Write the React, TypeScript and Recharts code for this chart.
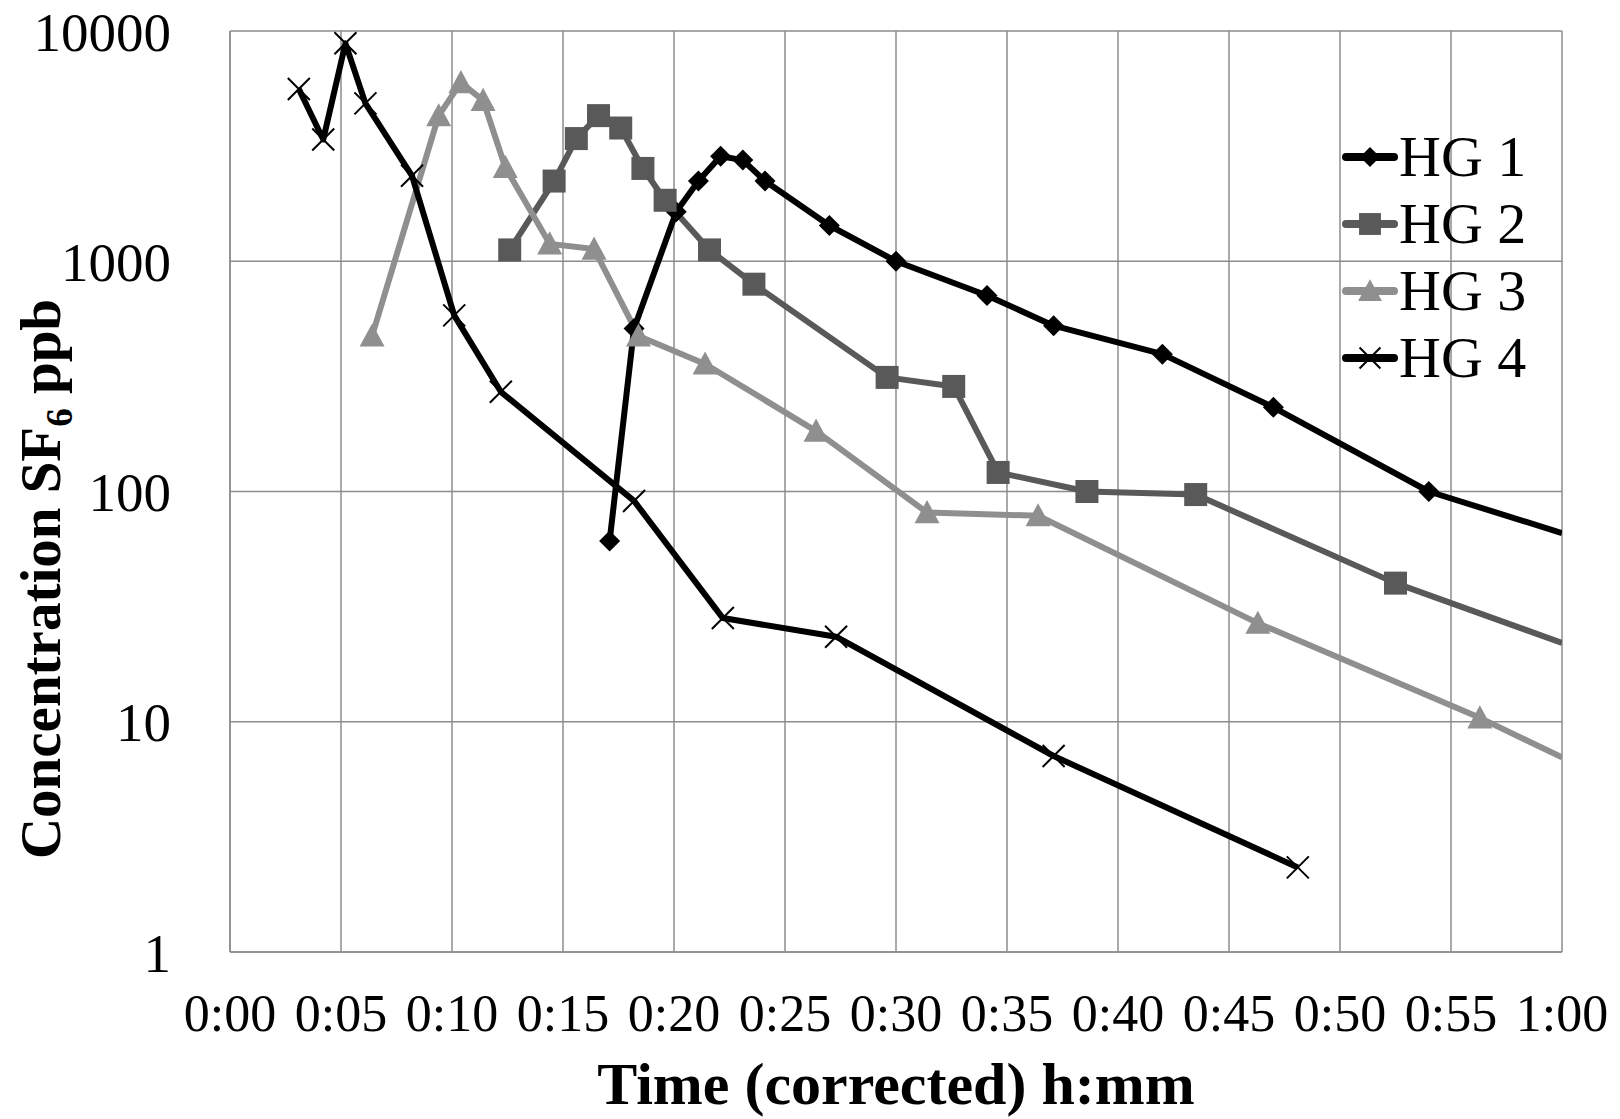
import React from 'react';
import { LineChart, Line, XAxis, YAxis, CartesianGrid, Label } from 'recharts';

// time in minutes, concentration in ppb
const hg1Time = [17.1, 18.2, 20.1, 21.1, 22.1, 23.1, 24.1, 27.0, 30.0, 34.1, 37.1, 42.0, 47.0, 54.0, 60];
const hg1Conc = [61, 510, 1640, 2230, 2860, 2750, 2230, 1430, 1000, 710, 525, 395, 232, 100, 66];

const hg2Time = [12.6, 14.6, 15.6, 16.6, 17.6, 18.6, 19.6, 21.6, 23.6, 29.6, 32.6, 34.6, 38.6, 43.5, 52.5, 60];
const hg2Conc = [1120, 2230, 3410, 4290, 3790, 2530, 1840, 1120, 795, 313, 286, 121, 100, 97, 40, 22];

const hg3Time = [6.4, 9.4, 10.4, 11.4, 12.4, 14.4, 16.4, 18.4, 21.4, 26.4, 31.4, 36.4, 46.3, 56.3, 60];
const hg3Conc = [474, 4290, 5970, 5000, 2560, 1190, 1130, 474, 358, 183, 81, 78.5, 26.8, 10.4, 7];

const hg4Time = [3.1, 4.2, 5.2, 6.1, 8.2, 10.1, 12.2, 18.2, 22.2, 27.3, 37.1, 48.1];
const hg4Conc = [5600, 3380, 8840, 4850, 2350, 582, 271, 91, 28.2, 23.4, 7.1, 2.33];

const xTicks = [0, 5, 10, 15, 20, 25, 30, 35, 40, 45, 50, 55, 60];
const yTicks = [1, 10, 100, 1000, 10000];

const seriesNames = ['HG 1', 'HG 2', 'HG 3', 'HG 4'];
const seriesColors = ['#000000', '#595959', '#8f8f8f', '#000000'];

const toRows = (t: number[], c: number[]) => t.map((v, i) => ({ t: v, c: c[i] }));

const fmtTime = (m: number) => `${Math.floor(m / 60)}:${String(m % 60).padStart(2, '0')}`;

const gridColor = '#8c8c8c';
const FONT = '"Liberation Serif", "Times New Roman", serif';

type Shape = 'diamond' | 'square' | 'triangle' | 'cross';

function marker(shape: Shape, cx: number, cy: number, color: string, key?: string, s = 1) {
  if (shape === 'diamond') {
    const r = 10.5 * s;
    return <path key={key} d={`M${cx},${cy - r}L${cx + r},${cy}L${cx},${cy + r}L${cx - r},${cy}Z`} fill={color} />;
  }
  if (shape === 'square') {
    const r = 11.5 * s;
    return <rect key={key} x={cx - r} y={cy - r} width={2 * r} height={2 * r} fill={color} />;
  }
  if (shape === 'triangle') {
    const r = 12.5 * s;
    return <path key={key} d={`M${cx},${cy - r}L${cx + r},${cy + r * 0.85}L${cx - r},${cy + r * 0.85}Z`} fill={color} />;
  }
  const r = 11 * s;
  return (
    <path key={key} d={`M${cx - r},${cy - r}L${cx + r},${cy + r}M${cx - r},${cy + r}L${cx + r},${cy - r}`} stroke={color} strokeWidth={2} fill="none" />
  );
}

const makeDot = (shape: Shape, color: string) => (props: any) => {
  const { cx, cy, payload, index } = props;
  const k = `${shape}-${index}`;
  // the end point sitting on the right edge is a clipped line, no marker there
  if (payload.t >= 60 || cx == null || cy == null) return <g key={k} />;
  return marker(shape, cx, cy, color, k);
};

const shapes: Shape[] = ['diamond', 'square', 'triangle', 'cross'];

export default function App() {
  const series = [
    toRows(hg1Time, hg1Conc),
    toRows(hg2Time, hg2Conc),
    toRows(hg3Time, hg3Conc),
    toRows(hg4Time, hg4Conc),
  ];

  return (
    <div style={{ position: 'absolute', left: 0, top: 0, width: 1620, height: 1119, background: '#fff', fontFamily: FONT }}>
      <LineChart width={1620} height={1119} margin={{ top: 31, right: 58, bottom: 47, left: 0 }}>
        <CartesianGrid stroke={gridColor} strokeWidth={1.5} />
        <XAxis
          type="number"
          dataKey="t"
          domain={[0, 60]}
          ticks={xTicks}
          tickFormatter={fmtTime}
          allowDataOverflow
          height={120}
          tickLine={false}
          tickSize={0}
          tickMargin={42}
          axisLine={{ stroke: gridColor, strokeWidth: 1.5 }}
          tick={{ fill: '#000', fontSize: 52, fontFamily: FONT }}
        >
          <Label
            content={({ viewBox }: any) => (
              <text
                x={viewBox.x + viewBox.width / 2}
                y={1104}
                textAnchor="middle"
                fontFamily={FONT}
                fontWeight="bold"
                fontSize={60}
                fill="#000"
              >
                Time (corrected) h:mm
              </text>
            )}
          />
        </XAxis>
        <YAxis
          type="number"
          dataKey="c"
          scale="log"
          domain={[1, 10000]}
          ticks={yTicks}
          allowDataOverflow
          width={230}
          tickLine={false}
          tickSize={0}
          tickMargin={59}
          axisLine={{ stroke: gridColor, strokeWidth: 1.5 }}
          tick={{ fill: '#000', fontSize: 55, fontFamily: FONT }}
        >
          <Label
            content={() => (
              <text
                transform="rotate(-90, 60, 579)"
                x={60}
                y={579}
                textAnchor="middle"
                fontFamily={FONT}
                fontWeight="bold"
                fontSize={57}
                fill="#000"
              >
                Concentration SF<tspan fontSize={37} dy={12}>6</tspan>
                <tspan dy={-12}> ppb</tspan>
              </text>
            )}
          />
        </YAxis>
        {series.map((rows, i) => (
          <Line
            key={seriesNames[i]}
            data={rows}
            dataKey="c"
            name={seriesNames[i]}
            stroke={seriesColors[i]}
            strokeWidth={6}
            strokeLinejoin="round"
            dot={makeDot(shapes[i], seriesColors[i])}
            activeDot={false}
            isAnimationActive={false}
          />
        ))}
      </LineChart>
      <div style={{ position: 'absolute', left: 1341, top: 123 }}>
        {seriesNames.map((name, i) => (
          <div key={name} style={{ display: 'flex', alignItems: 'center', height: 67 }}>
            <svg width={58} height={40} style={{ display: 'block' }}>
              <line x1={5} y1={20} x2={53} y2={20} stroke={seriesColors[i]} strokeWidth={8} strokeLinecap="round" />
              {marker(shapes[i], 29, 20, seriesColors[i], undefined, 0.95)}
            </svg>
            <span style={{ fontSize: 58, lineHeight: '67px', color: '#000' }}>{name}</span>
          </div>
        ))}
      </div>
    </div>
  );
}
